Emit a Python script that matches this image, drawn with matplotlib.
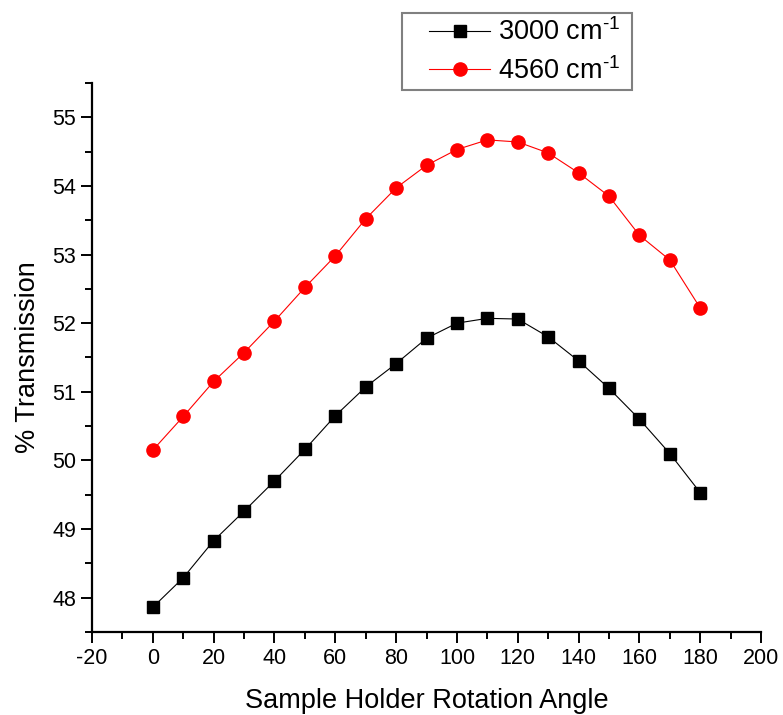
import matplotlib
matplotlib.use('Agg')
import matplotlib.pyplot as plt
from matplotlib.ticker import MultipleLocator
from matplotlib.legend_handler import HandlerLine2D

plt.rcParams['font.family'] = ['Liberation Sans', 'DejaVu Sans']
plt.rcParams['mathtext.fontset'] = 'custom'
plt.rcParams['mathtext.rm'] = 'Liberation Sans'
plt.rcParams['mathtext.it'] = 'Liberation Sans'
plt.rcParams['axes.unicode_minus'] = False

# data
angle = [0, 10, 20, 30, 40, 50, 60, 70, 80, 90,
         100, 110, 120, 130, 140, 150, 160, 170, 180]
trans_3000 = [47.86, 48.29, 48.83, 49.26, 49.70, 50.16, 50.65, 51.07, 51.41, 51.78,
              52.00, 52.07, 52.06, 51.80, 51.45, 51.05, 50.60, 50.10, 49.53]
trans_4560 = [50.15, 50.64, 51.15, 51.57, 52.03, 52.52, 52.98, 53.52, 53.97, 54.30,
              54.53, 54.67, 54.64, 54.48, 54.19, 53.85, 53.28, 52.92, 52.22]
labels = ['3000 cm$^{\\text{-1}}$', '4560 cm$^{\\text{-1}}$']

fig = plt.figure(figsize=(7.83, 7.15), dpi=100)
ax = fig.add_axes([0.1175, 0.1161, 0.8545, 0.7679])

l1, = ax.plot(angle, trans_3000, color='black', lw=0.8, marker='s', ms=8,
              mec='black', mfc='black', label=labels[0])
l2, = ax.plot(angle, trans_4560, color='red', lw=0.8, marker='o', ms=9.5,
              mec='red', mfc='red', label=labels[1])

ax.set_xlim(-20, 200)
ax.set_ylim(47.5, 55.5)
ax.xaxis.set_major_locator(MultipleLocator(20))
ax.xaxis.set_minor_locator(MultipleLocator(10))
ax.yaxis.set_major_locator(MultipleLocator(1))
ax.yaxis.set_minor_locator(MultipleLocator(0.5))

for side in ['top', 'right']:
    ax.spines[side].set_visible(False)
for side in ['left', 'bottom']:
    ax.spines[side].set_linewidth(1.6)

ax.tick_params(which='major', direction='out', length=8, width=1.4, labelsize=15.5)
ax.tick_params(which='minor', direction='out', length=5, width=1.4)

ax.set_xlabel('Sample Holder Rotation Angle', fontsize=19.5, labelpad=14)
ax.set_ylabel('% Transmission', fontsize=19.5, labelpad=8)

hmap = {l1: HandlerLine2D(xpad=0.8), l2: HandlerLine2D(xpad=0.8)}
leg = ax.legend(loc='upper left', bbox_to_anchor=(0.5134, 0.8727, 0.2937, 0.109),
                bbox_transform=fig.transFigure, borderaxespad=0, mode='expand',
                fontsize=19.5, fancybox=False, framealpha=1,
                edgecolor='#808080', handlelength=3.05, handletextpad=0.3,
                borderpad=0.2, labelspacing=0.4, handler_map=hmap)
leg.get_frame().set_linewidth(1.5)

fig.savefig('out.png', dpi=100, facecolor='white')
